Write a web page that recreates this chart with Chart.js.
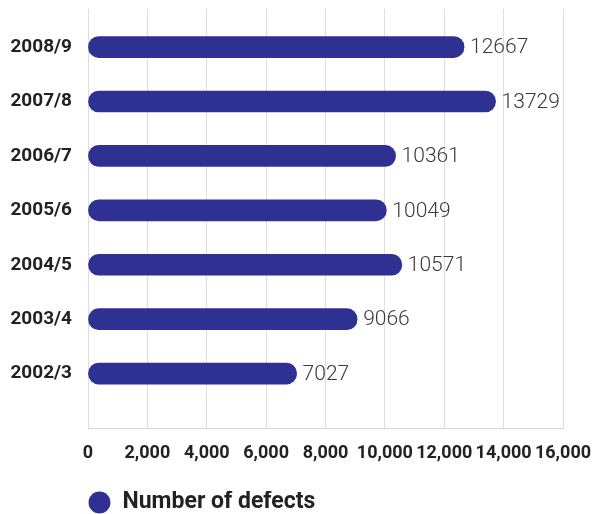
<!DOCTYPE html>
<html>
<head>
<meta charset="utf-8">
<script src="https://cdn.jsdelivr.net/npm/chart.js@4"></script>
<style>
  html, body { margin: 0; padding: 0; background: #fff; overflow: hidden; }
  #wrap { position: relative; width: 595px; height: 524px; }
</style>
</head>
<body>
<div id="wrap"><canvas id="chart"></canvas></div>
<script>
// oldest first; index doubles as the y position
var periods = ['2002/3', '2003/4', '2004/5', '2005/6', '2006/7', '2007/8', '2008/9'];
var defects = [7027, 9066, 10571, 10049, 10361, 13729, 12667];
var seriesName = 'Number of defects';

var barColor = '#2e3192';
var fontFamily = 'Roboto, "Liberation Sans", sans-serif';

// value printed just past the end of each bar
var valueLabels = {
  id: 'valueLabels',
  afterDatasetsDraw: function(chart) {
    var ctx = chart.ctx;
    var meta = chart.getDatasetMeta(0);
    ctx.save();
    ctx.font = '300 21px ' + fontFamily;
    ctx.fillStyle = '#3a3a3a';
    ctx.textAlign = 'left';
    ctx.textBaseline = 'middle';
    meta.data.forEach(function(bar, i) {
      ctx.fillText(String(defects[i]), bar.x + 6, bar.y + 1);
    });
    ctx.restore();
  }
};

var points = defects.map(function(v, i) { return { x: v, y: i }; });

new Chart(document.getElementById('chart'), {
  type: 'bar',
  data: {
    datasets: [{
      label: seriesName,
      data: points,
      backgroundColor: barColor,
      borderWidth: 0,
      borderRadius: 11,
      borderSkipped: false,
      barThickness: 21
    }]
  },
  options: {
    indexAxis: 'y',
    responsive: true,
    maintainAspectRatio: false,
    animation: false,
    layout: { padding: { top: 9, right: 32, left: 0, bottom: 0 } },
    scales: {
      x: {
        type: 'linear',
        min: 0,
        max: 16000,
        ticks: {
          stepSize: 2000,
          padding: 15,
          maxRotation: 0,
          minRotation: 0,
          autoSkip: false,
          color: '#222',
          font: { family: fontFamily, size: 18, weight: 'bold' },
          callback: function(v) { return v.toLocaleString('en-US'); }
        },
        grid: { color: '#dedede', lineWidth: 1, drawTicks: false },
        border: { display: true, color: '#d4d4d4' },
        afterFit: function(s) {
          s.height = 63;
          s.paddingLeft = 0;
          s.paddingRight = 0;
        }
      },
      y: {
        type: 'linear',
        offset: false,
        min: -1,
        max: 6.7,
        ticks: {
          stepSize: 1,
          padding: 16,
          color: '#222',
          font: { family: fontFamily, size: 19, weight: 'bold' },
          callback: function(v) { return periods[v] !== undefined ? periods[v] : ''; }
        },
        afterBuildTicks: function(s) {
          s.ticks = s.ticks.filter(function(t) {
            return Number.isInteger(t.value) && t.value >= 0 && t.value < periods.length;
          });
        },
        grid: { display: false, drawTicks: false },
        border: { display: false },
        afterFit: function(s) {
          s.width = 88;
          s.paddingTop = 0;
          s.paddingBottom = 0;
        }
      }
    },
    plugins: {
      legend: {
        position: 'bottom',
        align: 'start',
        fullSize: false,
        labels: {
          usePointStyle: true,
          pointStyle: 'circle',
          boxWidth: 23,
          boxHeight: 15.5,
          padding: 0,
          color: '#222',
          font: { family: fontFamily, size: 23, weight: 'bold' }
        }
      },
      tooltip: { enabled: false }
    }
  },
  plugins: [valueLabels]
});
</script>
</body>
</html>
